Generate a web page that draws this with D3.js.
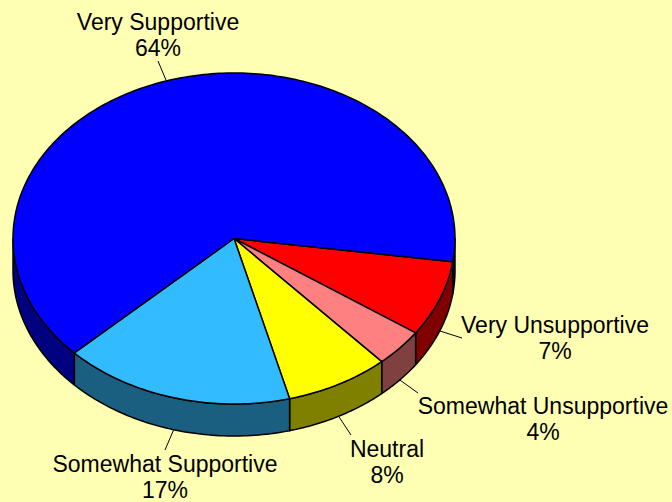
<!DOCTYPE html>
<html>
<head>
<meta charset="utf-8">
<script src="https://cdn.jsdelivr.net/npm/d3@7"></script>
<style>
  html, body { margin: 0; padding: 0; background: #ffffb4; }
  svg { display: block; }
  text { font-family: "Liberation Sans", Arial, sans-serif; font-size: 23px; fill: #000; }
</style>
</head>
<body>
<div id="graf"></div>
<script>
const categories = ['Very Unsupportive', 'Somewhat Unsupportive', 'Neutral', 'Somewhat Supportive', 'Very Supportive']
const values = [7.4, 3.7, 7.6, 16.9, 64.4]
const topColors = ['#ff0000', '#ff8080', '#ffff00', '#33bbff', '#0000ff']
const sideColors = ['#800000', '#804040', '#808000', '#1a5e80', '#000080']

// where the labels and the outer ends of the leader lines sit, px
const labelPos = [
  { x: 555, y: 333, lineX: 462, lineY: 338 },
  { x: 543, y: 414, lineX: 418, lineY: 393 },
  { x: 387, y: 457, lineX: 351, lineY: 435 },
  { x: 165, y: 472, lineX: 165, lineY: 450 },
  { x: 158, y: 30, lineX: 158, lineY: 61 },
]

const anchoTotal = 672
const altoTotal = 502
const depth = 32
const startDeg = 98.1

const svg = d3.select('#graf')
  .append('svg')
  .attr('width', anchoTotal)
  .attr('height', altoTotal)

const x = d3.scaleLinear().domain([-1, 1]).range([13, 455])
const y = d3.scaleLinear().domain([-1, 1]).range([404, 73])

const toRad = Math.PI / 180
const px = a => x(Math.sin(a))
const py = a => y(Math.cos(a))

const pie = d3.pie()
  .sort(null)
  .startAngle(startDeg * toRad)
  .endAngle((startDeg + 360) * toRad)

const slices = pie(values)

// walls: only the part of each slice between 3 o'clock and 9 o'clock shows
function wallPath(d) {
  const ranges = [[Math.PI / 2, 3 * Math.PI / 2], [2.5 * Math.PI, 3.5 * Math.PI]]
  let out = ''
  ranges.forEach(r => {
    const a0 = Math.max(d.startAngle, r[0])
    const a1 = Math.min(d.endAngle, r[1])
    if (a1 <= a0) return
    const angs = d3.range(0, 61).map(i => a0 + (a1 - a0) * i / 60)
    const line = d3.line().x(a => px(a)).y(a => py(a))
    const lower = line(angs)
    const upper = line.y(a => py(a) + depth)(angs.slice().reverse())
    out += lower + 'L' + upper.slice(1) + 'Z'
  })
  return out
}

function topPath(d) {
  const n = Math.max(2, Math.ceil((d.endAngle - d.startAngle) / toRad))
  const angs = d3.range(0, n + 1).map(i => d.startAngle + (d.endAngle - d.startAngle) * i / n)
  const line = d3.line().x(a => px(a)).y(a => py(a))
  return 'M' + x(0) + ',' + y(0) + 'L' + line(angs).slice(1) + 'Z'
}

svg.append('g').selectAll('path')
  .data(slices)
  .enter()
  .append('path')
  .attr('d', wallPath)
  .attr('fill', (d, i) => sideColors[i])
  .attr('stroke', '#000')
  .attr('stroke-width', 1.5)
  .attr('stroke-linejoin', 'round')

svg.append('g').selectAll('path')
  .data(slices)
  .enter()
  .append('path')
  .attr('d', topPath)
  .attr('fill', (d, i) => topColors[i])
  .attr('stroke', '#000')
  .attr('stroke-width', 1.5)
  .attr('stroke-linejoin', 'round')

// leader lines start on the rim at the middle of the slice
const midAngle = d => (d.startAngle + d.endAngle) / 2
const isFront = d => Math.cos(midAngle(d)) < 0

svg.append('g').selectAll('line')
  .data(slices)
  .enter()
  .append('line')
  .attr('x1', d => px(midAngle(d)))
  .attr('y1', d => py(midAngle(d)) + (isFront(d) ? depth : 0))
  .attr('x2', (d, i) => labelPos[i].lineX)
  .attr('y2', (d, i) => labelPos[i].lineY)
  .attr('stroke', '#000')
  .attr('stroke-width', 1)

const labels = svg.append('g').selectAll('text')
  .data(slices)
  .enter()
  .append('text')
  .attr('text-anchor', 'middle')
  .attr('x', (d, i) => labelPos[i].x)
  .attr('y', (d, i) => labelPos[i].y)

labels.append('tspan')
  .attr('x', (d, i) => labelPos[i].x)
  .text((d, i) => categories[i])

labels.append('tspan')
  .attr('x', (d, i) => labelPos[i].x)
  .attr('dy', 26)
  .text(d => d3.format('.0f')(d.value) + '%')
</script>
</body>
</html>
